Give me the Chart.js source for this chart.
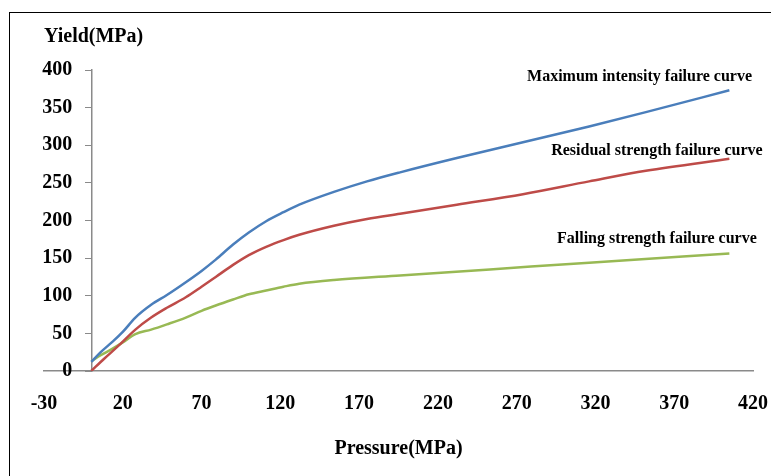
<!DOCTYPE html>
<html>
<head>
<meta charset="utf-8">
<script src="https://cdn.jsdelivr.net/npm/chart.js@4.4.1/dist/chart.umd.min.js"></script>
<style>
  html, body { margin: 0; padding: 0; background: #fff; }
  #wrap { position: relative; width: 771px; height: 476px; overflow: hidden; }
  #frame { position: absolute; left: 9px; top: 12px; width: 800px; height: 500px; border: 1px solid #000; pointer-events: none; }
  canvas { position: absolute; left: 0; top: 0; }
</style>
</head>
<body>
<div id="wrap">
  <canvas id="chart" width="771" height="476"></canvas>
  <div id="frame"></div>
</div>
<script>
// values
const xTicks = [-30, 20, 70, 120, 170, 220, 270, 320, 370, 420];

const maxPressure = [0, 6, 13, 20, 28, 38, 48, 60, 70, 79, 90, 100, 111, 122, 132, 154, 175, 196, 232, 274, 316, 352, 405];
const maxYield    = [12, 25, 38, 52, 71, 88, 101, 118, 133, 148, 168, 184, 199, 211, 221, 238, 252, 264, 283, 304, 325, 344, 373];

const resPressure = [0, 8, 17, 28, 38, 48, 60, 70, 79, 90, 100, 111, 122, 132, 154, 175, 196, 232, 274, 316, 352, 405];
const resYield    = [0, 16, 33, 55, 71, 84, 98, 112, 125, 141, 154, 165, 174, 181, 193, 202, 209, 221, 235, 252, 266, 282];

const fallPressure = [0, 6, 13, 20, 28, 38, 48, 60, 70, 79, 90, 100, 111, 122, 132, 154, 196, 253, 316, 405];
const fallYield    = [13, 21, 29, 38, 49, 55, 62, 71, 80, 87, 95, 102, 107, 112, 116, 121, 127, 135, 144, 156];

const curveNames = ['Maximum intensity failure curve', 'Residual strength failure curve', 'Falling strength failure curve'];
const curveColors = ['#4A7EBB', '#BE4B48', '#98B954'];
// where each curve name sits, in data units
const nameAtX = [348, 359, 359];
const nameAtY = [391, 293, 176];

const serif = '"Liberation Serif", "Times New Roman", serif';
const axisColor = '#8a8a8a';

const toPoints = (xs, ys) => xs.map((x, i) => ({ x: x, y: ys[i] }));

const curveLabels = {
  id: 'curveLabels',
  afterDatasetsDraw(chart) {
    const { ctx, scales } = chart;
    ctx.save();
    ctx.font = 'bold 16px ' + serif;
    ctx.fillStyle = '#000';
    ctx.textAlign = 'center';
    ctx.textBaseline = 'middle';
    curveNames.forEach((name, i) => {
      ctx.fillText(name, scales.x.getPixelForValue(nameAtX[i]), scales.y.getPixelForValue(nameAtY[i]));
    });
    ctx.restore();
  }
};

const lineStyle = (label, data, color) => ({
  label: label,
  data: data,
  showLine: true,
  borderColor: color,
  backgroundColor: color,
  borderWidth: 2.5,
  pointRadius: 0,
  cubicInterpolationMode: 'monotone',
  fill: false
});

const tickFont = { family: serif, size: 20, weight: 'bold' };

new Chart(document.getElementById('chart'), {
  type: 'scatter',
  data: {
    datasets: [
      lineStyle(curveNames[0], toPoints(maxPressure, maxYield), curveColors[0]),
      lineStyle(curveNames[1], toPoints(resPressure, resYield), curveColors[1]),
      lineStyle(curveNames[2], toPoints(fallPressure, fallYield), curveColors[2])
    ]
  },
  options: {
    responsive: false,
    animation: false,
    layout: { padding: { left: 44, right: 18, top: 0, bottom: 15 } },
    scales: {
      x: {
        type: 'linear',
        min: -30,
        max: 420,
        afterBuildTicks: (s) => { s.ticks = xTicks.map(v => ({ value: v })); },
        // end labels may hang over the plot edges like in the original
        afterFit: (s) => { s.paddingLeft = 0; s.paddingRight = 0; },
        grid: { display: true, drawOnChartArea: false, drawTicks: false },
        border: { display: true, color: axisColor, width: 1.5 },
        ticks: { color: '#000', padding: 21, autoSkip: false, maxRotation: 0, font: tickFont },
        title: {
          display: true,
          text: 'Pressure(MPa)',
          color: '#000',
          font: tickFont,
          padding: { top: 0, bottom: 0 }
        }
      },
      // axis line with short tick marks, crossing at pressure 0
      y: {
        type: 'linear',
        min: 0,
        max: 400,
        position: { x: 0 },
        grid: { drawOnChartArea: false, drawTicks: true, tickLength: 6, color: axisColor },
        border: { display: true, color: axisColor, width: 1.5 },
        ticks: { stepSize: 50, display: false }
      },
      // same range, only carries the number labels left of the axis line
      yLabels: {
        type: 'linear',
        axis: 'y',
        min: 0,
        max: 400,
        position: { x: -12 },
        grid: { display: false },
        border: { display: false },
        ticks: { stepSize: 50, color: '#000', font: tickFont }
      }
    },
    plugins: {
      legend: { display: false },
      tooltip: { enabled: false },
      title: {
        display: true,
        text: 'Yield(MPa)',
        align: 'start',
        color: '#000',
        font: tickFont,
        padding: { top: 25, bottom: 21 }
      }
    }
  },
  plugins: [curveLabels]
});
</script>
</body>
</html>
